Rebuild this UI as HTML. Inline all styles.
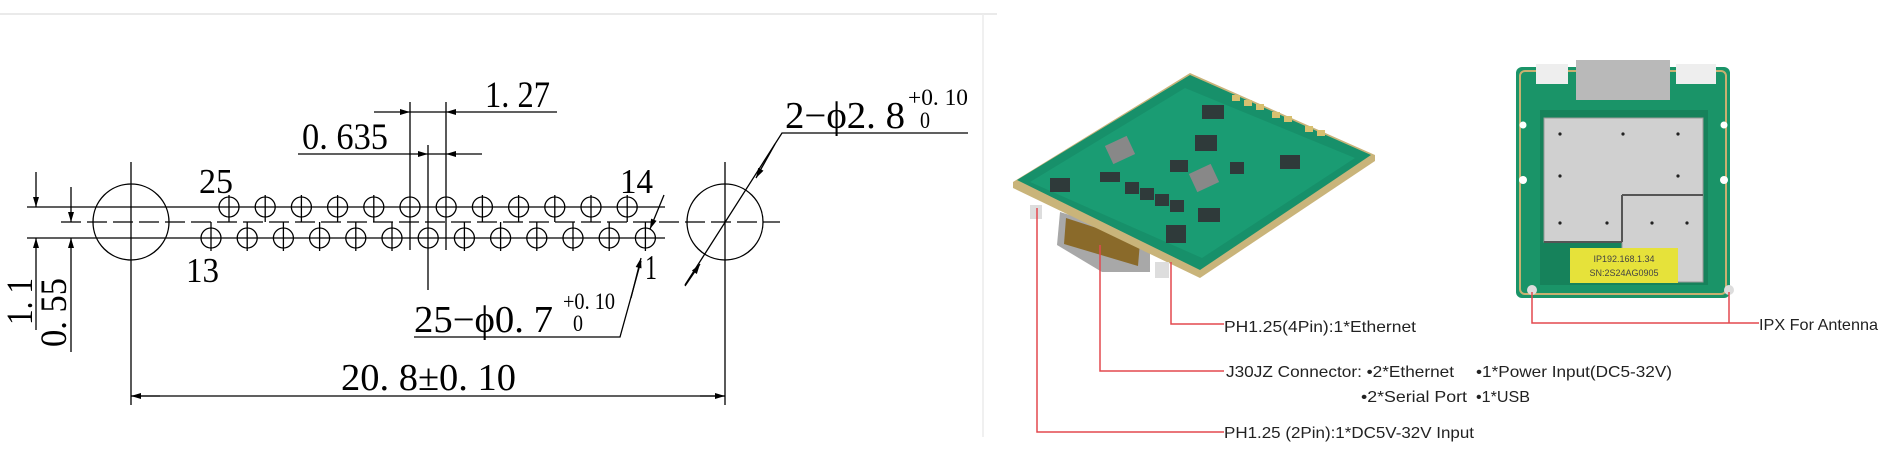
<!DOCTYPE html>
<html><head><meta charset="utf-8"><style>
html,body{margin:0;padding:0;background:#fff;}
svg{display:block;}
.d{stroke:#000;stroke-width:1.3;fill:none;}
.t{font-family:"Liberation Serif",serif;fill:#000;}
.s{font-family:"Liberation Sans",sans-serif;fill:#222;font-size:16px;}
</style></head><body>
<svg width="1890" height="472" viewBox="0 0 1890 472" xmlns="http://www.w3.org/2000/svg">
<defs>
<marker id="a" viewBox="0 0 10 6" refX="10" refY="3" markerWidth="14" markerHeight="6" markerUnits="userSpaceOnUse" orient="auto"><path d="M0,0 L10,3 L0,6z" fill="#000"/></marker>
</defs>
<line x1="0" y1="14" x2="997" y2="14" stroke="#e4e4e4" stroke-width="1.5"/>
<line x1="983" y1="14" x2="983" y2="437" stroke="#ececec" stroke-width="1.5"/>

<line class="d" x1="27" y1="207" x2="665" y2="207"/>
<line class="d" x1="27" y1="238" x2="665" y2="238"/>
<line class="d" x1="61" y1="222" x2="780" y2="222" stroke-dasharray="20 6"/>

<circle class="d" cx="131" cy="222" r="38"/>
<circle class="d" cx="725" cy="222" r="38"/>
<line class="d" x1="131" y1="162" x2="131" y2="405"/>
<line class="d" x1="725" y1="162" x2="725" y2="405"/>

<g class="d">
<circle cx="229" cy="207" r="10"/><line x1="229" y1="195" x2="229" y2="222"/>
<circle cx="265.2" cy="207" r="10"/><line x1="265.2" y1="195" x2="265.2" y2="222"/>
<circle cx="301.4" cy="207" r="10"/><line x1="301.4" y1="195" x2="301.4" y2="222"/>
<circle cx="337.6" cy="207" r="10"/><line x1="337.6" y1="195" x2="337.6" y2="222"/>
<circle cx="373.8" cy="207" r="10"/><line x1="373.8" y1="195" x2="373.8" y2="222"/>
<circle cx="410" cy="207" r="10"/>
<circle cx="446.2" cy="207" r="10"/>
<circle cx="482.4" cy="207" r="10"/><line x1="482.4" y1="195" x2="482.4" y2="222"/>
<circle cx="518.6" cy="207" r="10"/><line x1="518.6" y1="195" x2="518.6" y2="222"/>
<circle cx="554.8" cy="207" r="10"/><line x1="554.8" y1="195" x2="554.8" y2="222"/>
<circle cx="591" cy="207" r="10"/><line x1="591" y1="195" x2="591" y2="222"/>
<circle cx="627.2" cy="207" r="10"/><line x1="627.2" y1="195" x2="627.2" y2="222"/>
<circle cx="211" cy="238" r="10"/><line x1="211" y1="222" x2="211" y2="251"/>
<circle cx="247.2" cy="238" r="10"/><line x1="247.2" y1="222" x2="247.2" y2="251"/>
<circle cx="283.4" cy="238" r="10"/><line x1="283.4" y1="222" x2="283.4" y2="251"/>
<circle cx="319.6" cy="238" r="10"/><line x1="319.6" y1="222" x2="319.6" y2="251"/>
<circle cx="355.8" cy="238" r="10"/><line x1="355.8" y1="222" x2="355.8" y2="251"/>
<circle cx="392" cy="238" r="10"/><line x1="392" y1="222" x2="392" y2="251"/>
<circle cx="428.2" cy="238" r="10"/>
<circle cx="464.4" cy="238" r="10"/><line x1="464.4" y1="222" x2="464.4" y2="251"/>
<circle cx="500.6" cy="238" r="10"/><line x1="500.6" y1="222" x2="500.6" y2="251"/>
<circle cx="536.8" cy="238" r="10"/><line x1="536.8" y1="222" x2="536.8" y2="251"/>
<circle cx="573" cy="238" r="10"/><line x1="573" y1="222" x2="573" y2="251"/>
<circle cx="609.2" cy="238" r="10"/><line x1="609.2" y1="222" x2="609.2" y2="251"/>
<circle cx="645.4" cy="238" r="10"/><line x1="645.4" y1="222" x2="645.4" y2="251"/>
</g>

<line class="d" x1="410" y1="102" x2="410" y2="250"/>
<line class="d" x1="446" y1="102" x2="446" y2="250"/>
<line class="d" x1="428" y1="145" x2="428" y2="290"/>
<line class="d" x1="374" y1="112" x2="410" y2="112" marker-end="url(#a)"/>
<line class="d" x1="410" y1="112" x2="446" y2="112"/>
<line class="d" x1="557" y1="112" x2="446" y2="112" marker-end="url(#a)"/>
<line class="d" x1="298" y1="154" x2="428" y2="154" marker-end="url(#a)"/>
<line class="d" x1="428" y1="154" x2="446" y2="154"/>
<line class="d" x1="482" y1="154" x2="446" y2="154" marker-end="url(#a)"/>
<text class="t" x="485" y="107" font-size="37" textLength="65" lengthAdjust="spacingAndGlyphs">1. 27</text>
<text class="t" x="302" y="149" font-size="37" textLength="86" lengthAdjust="spacingAndGlyphs">0. 635</text>

<line class="d" x1="36" y1="172" x2="36" y2="207" marker-end="url(#a)"/>
<line class="d" x1="36" y1="330" x2="36" y2="238" marker-end="url(#a)"/>
<line class="d" x1="71" y1="187" x2="71" y2="222" marker-end="url(#a)"/>
<line class="d" x1="71" y1="352" x2="71" y2="238" marker-end="url(#a)"/>
<text class="t" transform="translate(32,325) rotate(-90)" font-size="37" textLength="47" lengthAdjust="spacingAndGlyphs">1. 1</text>
<text class="t" transform="translate(66,347) rotate(-90)" font-size="37" textLength="69" lengthAdjust="spacingAndGlyphs">0. 55</text>

<text class="t" x="199" y="193" font-size="35" textLength="34" lengthAdjust="spacingAndGlyphs">25</text>
<text class="t" x="186" y="282" font-size="35" textLength="33" lengthAdjust="spacingAndGlyphs">13</text>
<text class="t" x="620" y="193" font-size="35" textLength="33" lengthAdjust="spacingAndGlyphs">14</text>
<text class="t" x="645" y="279" font-size="35" textLength="12" lengthAdjust="spacingAndGlyphs">1</text>

<line class="d" x1="664" y1="195" x2="650" y2="229" marker-end="url(#a)"/>
<polyline class="d" points="414,337 620,337 641,261"/>
<line class="d" x1="631" y1="298" x2="641" y2="258" marker-end="url(#a)"/>
<text class="t" x="414" y="332" font-size="38" textLength="139" lengthAdjust="spacingAndGlyphs">25−ϕ0. 7</text>
<text class="t" x="563" y="309" font-size="23" textLength="52" lengthAdjust="spacingAndGlyphs">+0. 10</text>
<text class="t" x="573" y="331" font-size="23" textLength="10" lengthAdjust="spacingAndGlyphs">0</text>

<polyline class="d" points="685,285 782,133 968,133"/>
<line class="d" x1="775" y1="144" x2="756" y2="178" marker-end="url(#a)"/>
<line class="d" x1="685" y1="286" x2="700" y2="264" marker-end="url(#a)"/>
<text class="t" x="785" y="128" font-size="38" textLength="120" lengthAdjust="spacingAndGlyphs">2−ϕ2. 8</text>
<text class="t" x="908" y="105" font-size="23" textLength="60" lengthAdjust="spacingAndGlyphs">+0. 10</text>
<text class="t" x="920" y="128" font-size="23" textLength="10" lengthAdjust="spacingAndGlyphs">0</text>

<line class="d" x1="131" y1="396" x2="725" y2="396"/>
<line class="d" x1="160" y1="396" x2="131" y2="396" marker-end="url(#a)"/>
<line class="d" x1="700" y1="396" x2="725" y2="396" marker-end="url(#a)"/>
<text class="t" x="341" y="390" font-size="38" textLength="175" lengthAdjust="spacingAndGlyphs">20. 8±0. 10</text>

<!-- Left PCB photo -->
<g>
<polygon points="1060,212 1150,240 1150,272 1102,272 1057,245" fill="#a8a8a8"/>
<polygon points="1066,218 1140,242 1138,266 1064,244" fill="#8a6a2a"/>
<polygon points="1013,182 1190,73 1375,155 1375,161 1200,278 1013,188" fill="#c9b47a"/>
<polygon points="1017,180 1190,75 1371,155 1200,270" fill="#17906a"/>
<polygon points="1030,182 1185,88 1355,158 1202,258" fill="#1a9c73"/>
<rect x="1030" y="205" width="12" height="14" fill="#ddd"/>
<rect x="1155" y="262" width="14" height="16" fill="#ddd"/>
<g fill="#2f3a3a">
<rect x="1108" y="140" width="24" height="20" transform="rotate(-25 1120 150)" fill="#888"/>
<rect x="1192" y="168" width="24" height="20" transform="rotate(-25 1204 178)" fill="#888"/>
<rect x="1202" y="105" width="22" height="14"/>
<rect x="1195" y="135" width="22" height="16"/>
<rect x="1280" y="155" width="20" height="14"/>
<rect x="1125" y="182" width="14" height="12"/>
<rect x="1140" y="188" width="14" height="12"/>
<rect x="1155" y="194" width="14" height="12"/>
<rect x="1170" y="200" width="14" height="12"/>
<rect x="1100" y="172" width="20" height="10"/>
<rect x="1050" y="178" width="20" height="14"/>
<rect x="1166" y="225" width="20" height="18"/>
<rect x="1198" y="208" width="22" height="14"/>
<rect x="1170" y="160" width="18" height="12"/>
<rect x="1230" y="162" width="14" height="12"/>
</g>
<g fill="#d8c070"><rect x="1232" y="95" width="8" height="6"/><rect x="1244" y="100" width="8" height="6"/><rect x="1256" y="104" width="8" height="6"/><rect x="1272" y="112" width="8" height="6"/><rect x="1284" y="116" width="8" height="6"/><rect x="1305" y="126" width="8" height="6"/><rect x="1317" y="130" width="8" height="6"/></g>
</g>

<!-- Right PCB photo -->
<g>
<rect x="1516" y="67" width="214" height="231" rx="6" fill="#1a9468"/>
<rect x="1520" y="71" width="206" height="223" rx="5" fill="none" stroke="#c9b070" stroke-width="2"/>
<rect x="1540" y="110" width="168" height="175" fill="#16825b"/>
<rect x="1576" y="60" width="94" height="40" fill="#b9b9b9"/>
<rect x="1536" y="64" width="32" height="20" fill="#eeeeee"/>
<rect x="1676" y="64" width="40" height="20" fill="#eeeeee"/>
<polygon points="1544,118 1703,118 1703,282 1622,282 1622,242 1544,242" fill="#d0d0d0" stroke="#999" stroke-width="1"/>
<line x1="1622" y1="195" x2="1703" y2="195" stroke="#555" stroke-width="2"/>
<line x1="1622" y1="195" x2="1622" y2="242" stroke="#555" stroke-width="2"/>
<line x1="1544" y1="242" x2="1622" y2="242" stroke="#555" stroke-width="2"/>
<g fill="#222"><circle cx="1560" cy="134" r="1.6"/><circle cx="1623" cy="134" r="1.6"/><circle cx="1678" cy="134" r="1.6"/><circle cx="1560" cy="176" r="1.6"/><circle cx="1678" cy="176" r="1.6"/><circle cx="1560" cy="223" r="1.6"/><circle cx="1607" cy="223" r="1.6"/><circle cx="1652" cy="223" r="1.6"/><circle cx="1687" cy="223" r="1.6"/></g>
<rect x="1570" y="248" width="108" height="35" fill="#e6e23a"/>
<text x="1624" y="262" font-family="Liberation Sans,sans-serif" font-size="9" text-anchor="middle" fill="#444">IP192.168.1.34</text>
<text x="1624" y="276" font-family="Liberation Sans,sans-serif" font-size="9" text-anchor="middle" fill="#444">SN:2S24AG0905</text>
<circle cx="1532" cy="290" r="5" fill="#ddd"/><circle cx="1729" cy="290" r="5" fill="#ddd"/>
<circle cx="1523" cy="180" r="4" fill="#fff"/><circle cx="1724" cy="180" r="4" fill="#fff"/>
<circle cx="1523" cy="125" r="3.5" fill="#fff"/><circle cx="1724" cy="125" r="3.5" fill="#fff"/>
</g>

<g stroke="#e3484f" stroke-width="1.5" fill="none">
<polyline points="1171,262 1171,324 1224,324"/>
<polyline points="1100,245 1100,371 1224,371"/>
<polyline points="1037,208 1037,432 1224,432"/>
<polyline points="1532,292 1532,323 1759,323"/>
<line x1="1729" y1="292" x2="1729" y2="323"/>
</g>
<text class="s" x="1224" y="332" textLength="192" lengthAdjust="spacingAndGlyphs">PH1.25(4Pin):1*Ethernet</text>
<text class="s" x="1226" y="377" textLength="228" lengthAdjust="spacingAndGlyphs">J30JZ Connector: •2*Ethernet</text>
<text class="s" x="1476" y="377" textLength="196" lengthAdjust="spacingAndGlyphs">•1*Power Input(DC5-32V)</text>
<text class="s" x="1361" y="402" textLength="106" lengthAdjust="spacingAndGlyphs">•2*Serial Port</text>
<text class="s" x="1476" y="402" textLength="54" lengthAdjust="spacingAndGlyphs">•1*USB</text>
<text class="s" x="1224" y="438" textLength="250" lengthAdjust="spacingAndGlyphs">PH1.25 (2Pin):1*DC5V-32V Input</text>
<text class="s" x="1759" y="330" textLength="119" lengthAdjust="spacingAndGlyphs">IPX For Antenna</text>
</svg>
</body></html>
